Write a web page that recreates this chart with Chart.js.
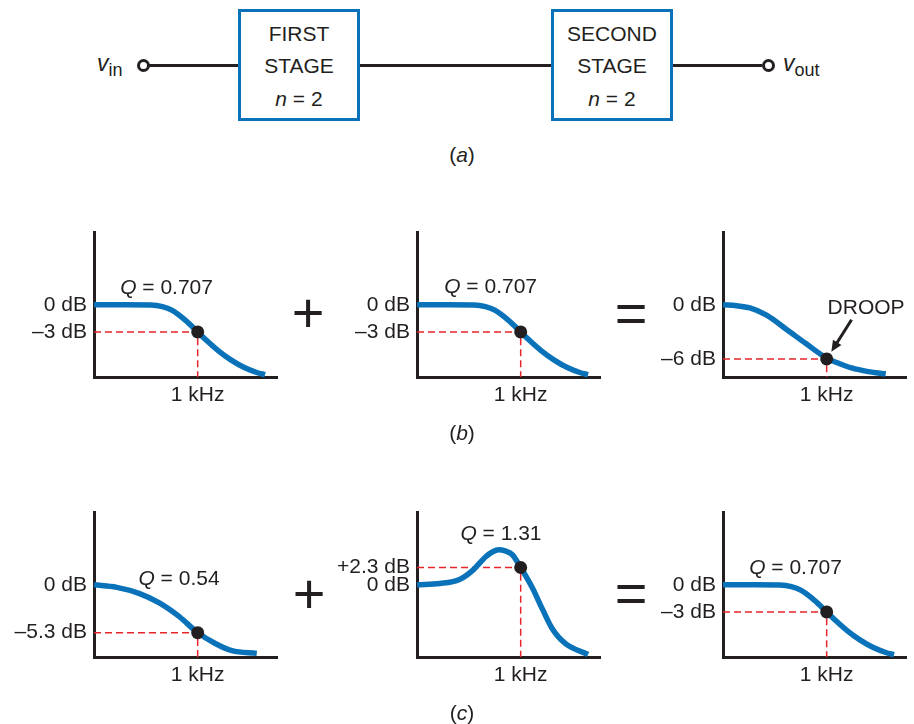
<!DOCTYPE html>
<html>
<head>
<meta charset="utf-8">
<script src="https://cdn.jsdelivr.net/npm/chart.js@4.4.1/dist/chart.umd.min.js"></script>
<style>
  body { margin: 0; background: #fff; }
  #page { position: relative; width: 914px; height: 724px; font-family: "Liberation Sans", Arial, sans-serif; color: #231f20; }
  .box { position: absolute; top: 9px; width: 122px; height: 112px; border: 3px solid #0a72b9; box-sizing: border-box; }
  .boxline { position: absolute; left: 0; width: 100%; text-align: center; font-size: 21px; line-height: 24px; }
  .wire { position: absolute; top: 64px; height: 3px; background: #231f20; }
  .node { position: absolute; top: 59px; width: 13px; height: 13px; border: 3px solid #231f20; border-radius: 50%; background: #fff; box-sizing: border-box; }
  .sig { position: absolute; top: 53px; font-size: 23px; line-height: 20px; white-space: nowrap; }
  .sig span { font-size: 18px; position: relative; top: 5px; }
  .cap { position: absolute; width: 60px; text-align: center; font-size: 21px; line-height: 24px; }
  .op { position: absolute; width: 60px; height: 56px; text-align: center; font-size: 56px; line-height: 56px; }
  canvas.panel { position: absolute; }
</style>
</head>
<body>
<div id="page">
  <!-- (a) block diagram -->
  <div class="sig" style="left:97px;"><i>v</i><span>in</span></div>
  <div class="node" style="left:137px;"></div>
  <div class="wire" style="left:149px; width:89px;"></div>
  <div class="box" style="left:238px;">
    <div class="boxline" style="top:10px;">FIRST</div>
    <div class="boxline" style="top:42px;">STAGE</div>
    <div class="boxline" style="top:75px;"><i>n</i> = 2</div>
  </div>
  <div class="wire" style="left:360px; width:191px;"></div>
  <div class="box" style="left:551px;">
    <div class="boxline" style="top:10px;">SECOND</div>
    <div class="boxline" style="top:42px;">STAGE</div>
    <div class="boxline" style="top:75px;"><i>n</i> = 2</div>
  </div>
  <div class="wire" style="left:673px; width:89px;"></div>
  <div class="node" style="left:762px;"></div>
  <div class="sig" style="left:783px;"><i>v</i><span>out</span></div>
  <div class="cap" style="left:432px; top:143px;">(<i>a</i>)</div>

  <!-- (b) -->
  <canvas class="panel" id="b1" width="280" height="204" style="left:4px; top:213px;"></canvas>
  <div class="op" style="left:278px; top:285px;">+</div>
  <canvas class="panel" id="b2" width="280" height="204" style="left:327px; top:213px;"></canvas>
  <div class="op" style="left:601px; top:285px;">=</div>
  <canvas class="panel" id="b3" width="280" height="204" style="left:633px; top:213px;"></canvas>
  <div class="cap" style="left:432px; top:421px;">(<i>b</i>)</div>

  <!-- (c) -->
  <canvas class="panel" id="c1" width="280" height="204" style="left:4px; top:493px;"></canvas>
  <div class="op" style="left:279px; top:566px;">+</div>
  <canvas class="panel" id="c2" width="280" height="204" style="left:327px; top:493px;"></canvas>
  <div class="op" style="left:601px; top:565px;">=</div>
  <canvas class="panel" id="c3" width="280" height="204" style="left:633px; top:493px;"></canvas>
  <div class="cap" style="left:432px; top:701px;">(<i>c</i>)</div>
</div>

<script>
// x is frequency relative to the marked point (1 = 1 kHz), y is gain in dB
const q707X = [0, 0.3, 0.55, 0.66, 0.75, 0.88, 1.0, 1.1, 1.2, 1.32, 1.45, 1.57, 1.65];
const q707Y = [0, 0, -0.02, -0.2, -0.6, -1.7, -3, -4.1, -5.1, -6.1, -6.95, -7.5, -7.75];
const droopX = [0, 0.13, 0.26, 0.42, 0.61, 0.8, 1.0, 1.12, 1.24, 1.4, 1.57];
const droopY = [0, -0.1, -0.35, -1.15, -2.7, -4.3, -5.9, -6.5, -7.0, -7.4, -7.65];
const q054X = [0, 0.22, 0.44, 0.63, 0.82, 1.0, 1.17, 1.33, 1.57];
const q054Y = [0, -0.28, -0.97, -2.0, -3.5, -5.3, -6.5, -7.3, -7.6];
const q131X = [0, 0.22, 0.41, 0.54, 0.66, 0.73, 0.79, 0.85, 0.92, 1.0, 1.11, 1.21, 1.3, 1.43, 1.65];
const q131Y = [0, 0.17, 0.71, 1.96, 3.7, 4.4, 4.66, 4.5, 4.0, 2.3, -0.33, -3.24, -5.74, -7.8, -9.26];

const kHzTicks = [1];
const kHzLabels = ['1 kHz'];

const ticksB1 = [0, -3];
const labelsB1 = ['0 dB', '\u20133 dB'];
const ticksB3 = [0, -6];
const labelsB3 = ['0 dB', '\u20136 dB'];
const ticksC1 = [0, -5.3];
const labelsC1 = ['0 dB', '\u20135.3 dB'];
const ticksC2 = [2.3, 0];
const labelsC2 = ['+2.3 dB', '0 dB'];

const INK = '#231f20';
const BLUE = '#0a72b9';
const RED = '#e5252b';
const FONT = '"Liberation Sans", Arial, sans-serif';
const SIZE = 21;

// Q = ... text and the DROOP arrow, placed in data units
const notesPlugin = {
    id: 'notes',
    afterDatasetsDraw(chart, args, opts) {
        const { ctx } = chart;
        const x = chart.scales.x, y = chart.scales.y;
        ctx.save();
        ctx.fillStyle = INK;
        ctx.strokeStyle = INK;
        ctx.textBaseline = 'middle';
        ctx.textAlign = 'left';
        if (opts.q) {
            const px = x.getPixelForValue(opts.q.x), py = y.getPixelForValue(opts.q.y);
            const rest = ' = ' + opts.q.value;
            ctx.font = 'italic ' + SIZE + 'px ' + FONT;
            const wq = ctx.measureText('Q').width;
            ctx.font = SIZE + 'px ' + FONT;
            const wr = ctx.measureText(rest).width;
            const left = px - (wq + wr) / 2;
            ctx.font = 'italic ' + SIZE + 'px ' + FONT;
            ctx.fillText('Q', left, py);
            ctx.font = SIZE + 'px ' + FONT;
            ctx.fillText(rest, left + wq, py);
        }
        if (opts.droop) {
            const d = opts.droop;
            ctx.font = SIZE + 'px ' + FONT;
            ctx.textAlign = 'center';
            ctx.fillText('DROOP', x.getPixelForValue(d.textX), y.getPixelForValue(d.textY));
            const x1 = x.getPixelForValue(d.fromX), y1 = y.getPixelForValue(d.fromY);
            const x2 = x.getPixelForValue(d.toX), y2 = y.getPixelForValue(d.toY);
            const a = Math.atan2(y2 - y1, x2 - x1);
            const head = 11;
            ctx.lineWidth = 3;
            ctx.beginPath();
            ctx.moveTo(x1, y1);
            ctx.lineTo(x2 - Math.cos(a) * head * 0.8, y2 - Math.sin(a) * head * 0.8);
            ctx.stroke();
            ctx.beginPath();
            ctx.moveTo(x2, y2);
            ctx.lineTo(x2 - Math.cos(a) * head - Math.sin(a) * 5, y2 - Math.sin(a) * head + Math.cos(a) * 5);
            ctx.lineTo(x2 - Math.cos(a) * head + Math.sin(a) * 5, y2 - Math.sin(a) * head - Math.cos(a) * 5);
            ctx.closePath();
            ctx.fill();
        }
        ctx.restore();
    }
};
Chart.register(notesPlugin);

function makePanel(id, p) {
    const curve = p.xs.map((v, i) => ({ x: v, y: p.ys[i] }));
    const guide = [{ x: 0, y: p.mark }, { x: 1, y: p.mark }, { x: 1, y: p.yMin }];
    return new Chart(document.getElementById(id), {
        type: 'line',
        data: {
            datasets: [
                { data: [{ x: 1, y: p.mark }], showLine: false, pointRadius: 6.5,
                  pointBackgroundColor: INK, pointBorderColor: INK, pointBorderWidth: 0, order: 0, clip: false },
                { data: curve, borderColor: BLUE, borderWidth: 5.5, pointRadius: 0,
                  cubicInterpolationMode: 'monotone', order: 1, clip: false },
                { data: guide, borderColor: RED, borderWidth: 1.5, borderDash: [7, 4],
                  pointRadius: 0, tension: 0, order: 2, clip: false }
            ]
        },
        options: {
            responsive: false,
            animation: false,
            events: [],
            layout: { padding: { top: 10, right: 4, left: 0, bottom: 0 } },
            plugins: {
                legend: { display: false },
                tooltip: { enabled: false },
                notes: p.notes
            },
            scales: {
                x: {
                    type: 'linear', min: 0, max: 1.77,
                    grid: { display: false, drawTicks: false },
                    border: { color: INK, width: 3 },
                    afterBuildTicks: s => { s.ticks = kHzTicks.map(v => ({ value: v })); },
                    afterFit: s => { s.height = 40; },
                    ticks: { autoSkip: false, maxRotation: 0, padding: 6, color: INK,
                             font: { family: FONT, size: SIZE }, callback: (v, i) => kHzLabels[i] }
                },
                y: {
                    type: 'linear', min: p.yMin, max: p.yMax,
                    grid: { display: false, drawTicks: false },
                    border: { color: INK, width: 3 },
                    afterBuildTicks: s => { s.ticks = p.ticks.map(v => ({ value: v })); },
                    afterFit: s => { s.width = 90; },
                    ticks: { autoSkip: false, padding: 7, color: INK,
                             font: { family: FONT, size: SIZE }, callback: (v, i) => p.labels[i] }
                }
            }
        }
    });
}

makePanel('b1', { xs: q707X, ys: q707Y, mark: -3, yMin: -8, yMax: 8, ticks: ticksB1, labels: labelsB1,
    notes: { q: { x: 0.7, y: 1.8, value: '0.707' } } });
makePanel('b2', { xs: q707X, ys: q707Y, mark: -3, yMin: -8, yMax: 8, ticks: ticksB1, labels: labelsB1,
    notes: { q: { x: 0.71, y: 1.9, value: '0.707' } } });
makePanel('b3', { xs: droopX, ys: droopY, mark: -6, yMin: -8, yMax: 8, ticks: ticksB3, labels: labelsB3,
    notes: { droop: { textX: 1.38, textY: -0.4, fromX: 1.24, fromY: -1.66, toX: 1.045, toY: -5.2 } } });
makePanel('c1', { xs: q054X, ys: q054Y, mark: -5.3, yMin: -8, yMax: 8, ticks: ticksC1, labels: labelsC1,
    notes: { q: { x: 0.82, y: 0.6, value: '0.54' } } });
makePanel('c2', { xs: q131X, ys: q131Y, mark: 2.3, yMin: -9.6, yMax: 9.6, ticks: ticksC2, labels: labelsC2,
    notes: { q: { x: 0.81, y: 6.7, value: '1.31' } } });
makePanel('c3', { xs: q707X, ys: q707Y, mark: -3, yMin: -8, yMax: 8, ticks: ticksB1, labels: labelsB1,
    notes: { q: { x: 0.7, y: 1.87, value: '0.707' } } });
</script>
</body>
</html>
